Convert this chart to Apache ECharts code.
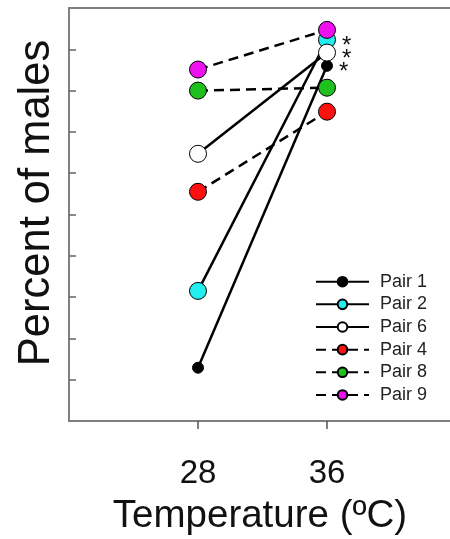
<!DOCTYPE html>
<html>
<head>
<meta charset="utf-8">
<script src="https://cdn.jsdelivr.net/npm/echarts@6/dist/echarts.min.js"></script>
<style>html,body{margin:0;padding:0;background:#fff}#c{width:450px;height:539px}</style>
</head>
<body>
<div id="c"></div>
<script>
const temps = [28, 36];
const pairNames = ['Pair 1', 'Pair 2', 'Pair 6', 'Pair 4', 'Pair 8', 'Pair 9'];
const pair1 = [12.9, 86.0];
const pair2 = [31.5, 92.3];
const pair6 = [64.7, 89.2];
const pair4 = [55.5, 74.9];
const pair8 = [80.0, 80.7];
const pair9 = [85.1, 94.7];
const yTicks = [10, 20, 30, 40, 50, 60, 70, 80, 90];
const starred = ['Pair 1', 'Pair 2', 'Pair 6'];
const xTitle = 'Temperature (ºC)';
const yTitle = 'Percent of males';

const pairValues = [pair1, pair2, pair6, pair4, pair8, pair9];
const fills = ['#000000', '#22eeee', '#ffffff', '#ff1010', '#1ec01e', '#ee11ee'];
const dashed = [false, false, false, true, true, true];
const sizes = [11, 17, 17, 17, 17, 17];
const FONT = 'Liberation Sans, Arial, sans-serif';

const chart = echarts.init(document.getElementById('c'), null, {renderer: 'canvas'});

const series = pairNames.map((name, i) => ({
  name: name,
  type: 'line',
  symbol: 'circle',
  symbolSize: sizes[i],
  z: 2,
  lineStyle: {color: '#000', width: 2.5, type: dashed[i] ? [10, 6] : 'solid'},
  itemStyle: {color: fills[i], borderColor: '#000', borderWidth: 1},
  emphasis: {disabled: true},
  data: temps.map((t, j) => {
    const item = {value: [t, pairValues[i][j]]};
    if (j === 1 && starred.indexOf(name) >= 0) {
      item.label = {show: true, formatter: '*', position: 'right', distance: 6,
        offset: [0, 7], fontSize: 24, color: '#111', fontFamily: FONT};
    }
    return item;
  })
}));

chart.setOption({
  animation: false,
  grid: {left: 69, top: 8, width: 387, height: 413, outerBoundsMode: 'none', containLabel: false,
    show: true, borderColor: '#808080', borderWidth: 2, backgroundColor: 'transparent'},
  xAxis: {
    type: 'value', min: 20, max: 44, interval: 4,
    axisLine: {show: false},
    splitLine: {show: false},
    axisTick: {show: true, inside: false, length: 8, customValues: temps, lineStyle: {color: '#555', width: 1.5}},
    axisLabel: {show: true, customValues: temps, margin: 36, fontSize: 33, color: '#111', fontFamily: FONT}
  },
  yAxis: {
    type: 'value', min: 0, max: 100, interval: 10,
    axisLine: {show: false},
    splitLine: {show: false},
    axisTick: {show: true, inside: true, length: 7, customValues: yTicks, lineStyle: {color: '#666', width: 1.5}},
    axisLabel: {show: false}
  },
  legend: {
    orient: 'vertical', left: 315, top: 272.7, padding: 0,
    itemWidth: 53, itemHeight: 12, itemGap: 4.65,
    textStyle: {fontSize: 18, color: '#222', fontFamily: FONT, padding: [0, 0, 0, 6]},
    data: pairNames
  },
  graphic: [
    {type: 'text', x: 37, y: 203, rotation: Math.PI / 2,
      style: {text: yTitle, fontSize: 43.5, fill: '#111', align: 'center', verticalAlign: 'middle', fontFamily: FONT}},
    {type: 'text', x: 260, y: 516,
      style: {text: xTitle, fontSize: 38.5, fill: '#111', align: 'center', verticalAlign: 'middle', fontFamily: FONT}}
  ],
  series: series
});
</script>
</body>
</html>
